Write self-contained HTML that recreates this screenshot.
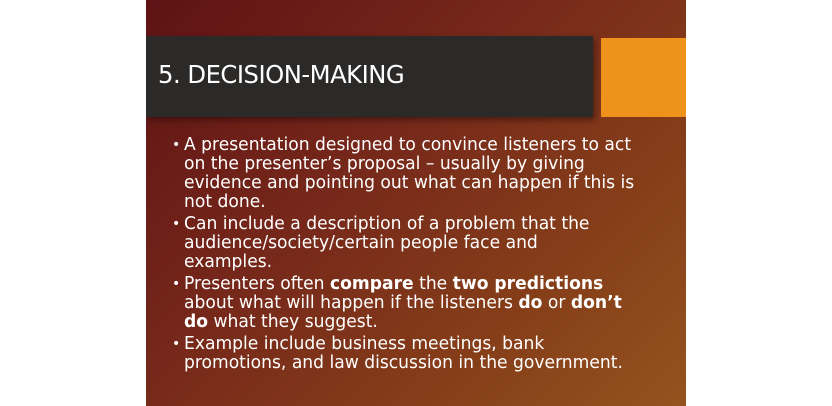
<!DOCTYPE html>
<html><head><meta charset="utf-8"><style>
html,body{margin:0;padding:0;background:#fff;}
body{width:832px;height:406px;position:relative;overflow:hidden;font-family:"DejaVu Sans","Liberation Sans",sans-serif;}
#slide{position:absolute;left:146px;top:0;width:540px;height:406px;background:linear-gradient(135deg,#5e1214 0%,#76281a 40%,#874019 75%,#94531f 100%);overflow:hidden;}
#banner{position:absolute;left:0;top:36px;width:447px;height:81px;background:#2b2a29;box-shadow:2px 3px 6px rgba(0,0,0,.4);}
#title{position:absolute;left:12px;top:24px;color:#fff;font-size:25px;letter-spacing:-0.5px;white-space:nowrap;transform:scaleX(0.97);transform-origin:left;}
#orange{position:absolute;left:455px;top:38px;width:85px;height:79px;background:#ef921c;}
#body{position:absolute;left:26px;top:136px;color:#fff;font-size:17.4px;line-height:19px;}
.p{position:relative;padding-left:12px;margin-bottom:3px;}
.p:before{content:"•";position:absolute;left:0;top:0;font-size:14px;}
.l{white-space:nowrap;display:block;transform:scaleX(0.985);transform-origin:left;}
</style></head><body>
<div id="slide">
 <div id="banner"><div id="title">5. DECISION-MAKING</div></div>
 <div id="orange"></div>
 <div id="body">
  <div class="p"><span class="l">A presentation designed to convince listeners to act</span><span class="l">on the presenter’s proposal – usually by giving</span><span class="l">evidence and pointing out what can happen if this is</span><span class="l">not done.</span></div>
  <div class="p"><span class="l">Can include a description of a problem that the</span><span class="l">audience/society/certain people face and</span><span class="l">examples.</span></div>
  <div class="p"><span class="l">Presenters often <b>compare</b> the <b>two predictions</b></span><span class="l">about what will happen if the listeners <b>do</b> or <b>don’t</b></span><span class="l"><b>do</b> what they suggest.</span></div>
  <div class="p"><span class="l">Example include business meetings, bank</span><span class="l">promotions, and law discussion in the government.</span></div>
 </div>
</div>
</body></html>
